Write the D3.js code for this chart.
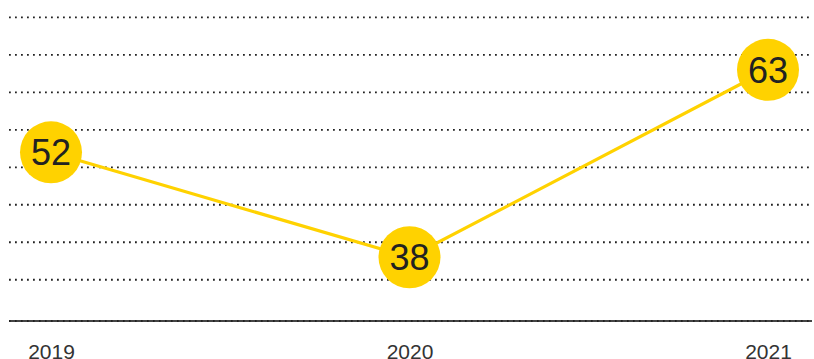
<!DOCTYPE html>
<html><head><meta charset="utf-8">
<script src="https://cdn.jsdelivr.net/npm/d3@7"></script>
<style>html,body{margin:0;padding:0;background:#fff;overflow:hidden;}</style>
</head><body>
<svg id="c" width="814" height="359"></svg>
<script>
const years = ["2019", "2020", "2021"];
const values = [52, 38, 63];
const gridTicks = [35, 40, 45, 50, 55, 60, 65, 70];

const svg = d3.select("#c");
const x = d3.scalePoint().domain(years).range([51, 768]);
const y = d3.scaleLinear().domain([29.5, 70]).range([321, 17.3]);
const gridLeft = 9, gridRight = 812;

// gridlines
svg.append("g").selectAll("line").data(gridTicks).join("line")
  .attr("x1", gridLeft).attr("x2", gridRight)
  .attr("y1", d => y(d)).attr("y2", d => y(d))
  .attr("stroke", "#222").attr("stroke-width", 1.8)
  .attr("stroke-dasharray", "1.8 4.2");

// baseline axis
const axis = d3.axisBottom(x).tickSize(0).tickPadding(38);
const ag = svg.append("g").attr("transform", `translate(0,${y(29.5)})`).call(axis);
ag.select(".domain").remove();
ag.append("line").attr("x1", gridLeft).attr("x2", gridRight)
  .attr("stroke", "#444").attr("stroke-width", 2.2);
ag.append("line").attr("x1", gridLeft).attr("x2", gridRight)
  .attr("stroke", "#222").attr("stroke-width", 2.2).attr("stroke-dasharray", "1.6 4.4");
ag.selectAll(".tick text")
  .attr("font-family", "'Liberation Sans', Arial, sans-serif")
  .attr("font-size", 21).attr("fill", "#333").attr("dy", "0");

const data = years.map((yr, i) => ({yr, v: values[i]}));

// line
svg.append("path").datum(data)
  .attr("fill", "none").attr("stroke", "#FFD200").attr("stroke-width", 3.2)
  .attr("d", d3.line().x(d => x(d.yr)).y(d => y(d.v)));

// circles
const pts = svg.append("g").selectAll("g").data(data).join("g")
  .attr("transform", d => `translate(${x(d.yr)},${y(d.v)})`);
pts.append("circle").attr("r", 31).attr("fill", "#FFD200");
pts.append("text").text(d => d.v)
  .attr("text-anchor", "middle").attr("dy", "0.36em")
  .attr("font-family", "'Liberation Sans', Arial, sans-serif")
  .attr("font-size", 36).attr("fill", "#222");
</script>
</body></html>
